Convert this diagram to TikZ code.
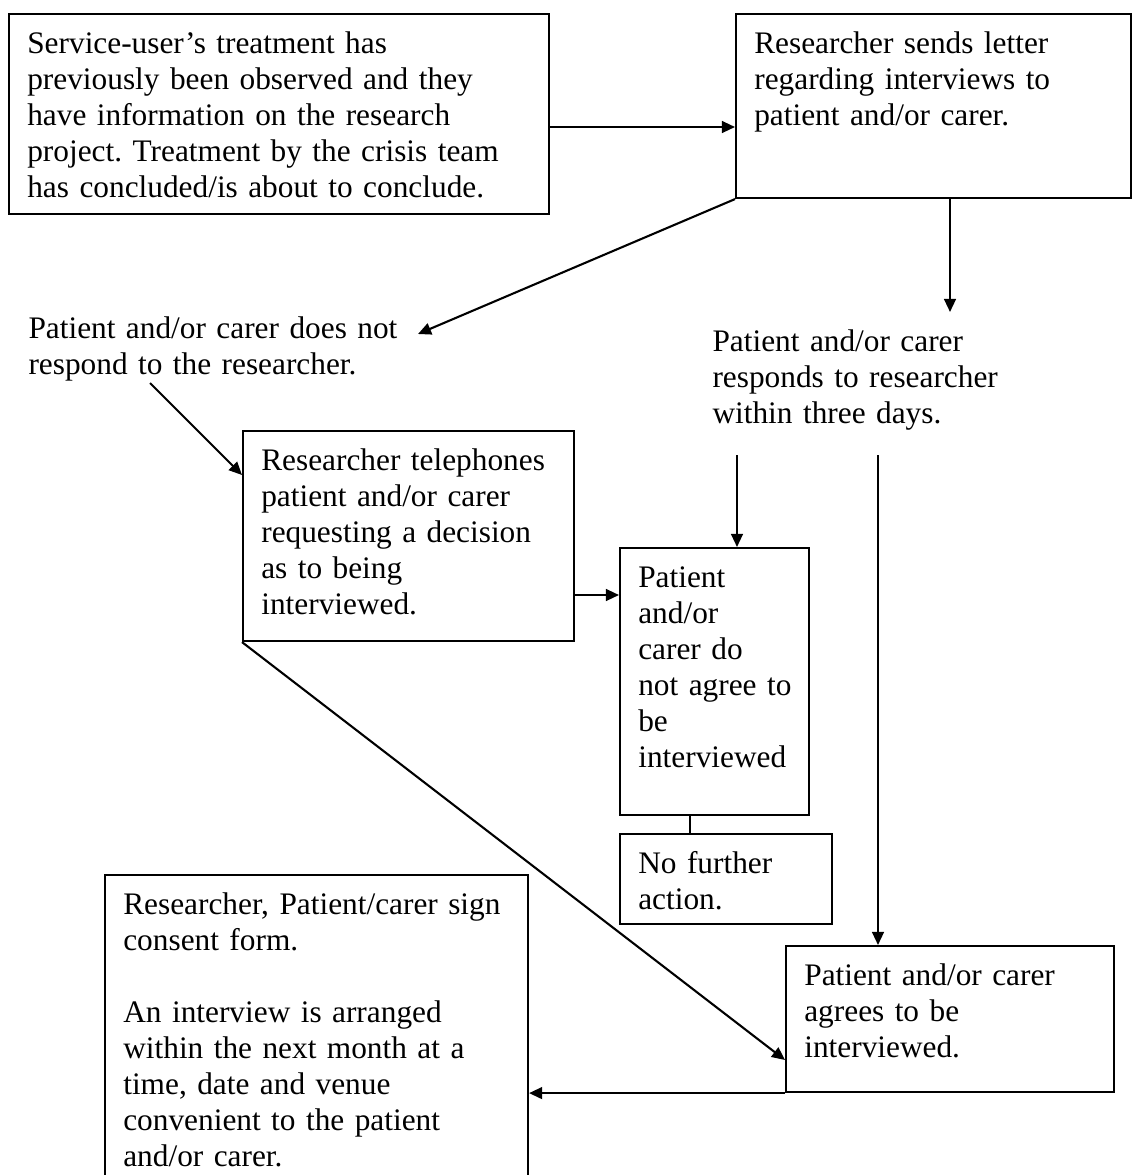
\documentclass[tikz,border=0pt]{standalone}
\usepackage{fontspec}
\setmainfont{Liberation Serif}
\usetikzlibrary{arrows.meta}
\tikzstyle{box}=[draw, line width=0.8pt, anchor=north west, align=left,
		inner xsep=7pt, inner ysep=0pt, text height=15pt]
\tikzstyle{txt}=[anchor=base west, align=left, inner sep=0pt]
\tikzstyle{arr}=[line width=0.8pt, -{Triangle[length=5pt,width=4.5pt]}]
\begin{document}
\frenchspacing
\begin{tikzpicture}[x=0.383pt, y=-0.383pt, font=\fontsize{12}{13.8}\selectfont]
	\useasboundingbox (0,0) rectangle (1134,1175);
	\clip (0,0) rectangle (1134,1175);
	\node[box, text width=540*0.383pt-14pt, text depth=200*0.383pt-15pt] (origin) at (8,13)
		{Service-user’s treatment has\\previously been observed and they\\have information on the research\\project. Treatment by the crisis team\\has concluded/is about to conclude.};
	\node[box, text width=395*0.383pt-14pt, text depth=184*0.383pt-15pt] (letter) at (735,13)
		{Researcher sends letter\\regarding interviews to\\patient and/or carer.};
	\node[txt, text width=160pt] (noreply) at (28,338)
		{Patient and/or carer does not\\respond to the researcher.};
	\node[txt, text width=120pt] (reply) at (712,351)
		{Patient and/or carer\\responds to researcher\\within three days.};
	\node[box, text width=331*0.383pt-14pt, text depth=210*0.383pt-15pt] (phone) at (242,430)
		{Researcher telephones\\patient and/or carer\\requesting a decision\\as to being\\interviewed.};
	\node[box, text width=189*0.383pt-14pt, text depth=267*0.383pt-15pt] (decline) at (619,547)
		{Patient\\and/or\\carer do\\\mbox{not agree to}\\be\\interviewed};
	\node[box, text width=212*0.383pt-14pt, text depth=90*0.383pt-15pt] (nofurther) at (619,833)
		{No further\\action.};
	\node[box, text width=423*0.383pt-14pt, text depth=330*0.383pt-15pt] (consent) at (104,874)
		{Researcher, Patient/carer sign\\consent form.\\[13.8pt]An interview is arranged\\within the next month at a\\time, date and venue\\convenient to the patient\\and/or carer.};
	\node[box, text width=328*0.383pt-14pt, text depth=146*0.383pt-15pt] (agree) at (785,945)
		{Patient and/or carer\\agrees to be\\interviewed.};
	\coordinate (noreplytip) at (418,334);
	\coordinate (noreplyend) at (150,383);
	\coordinate (replytip) at (950,312);
	\coordinate (replyleft) at (737,455);
	\coordinate (replyright) at (878,455);
	\draw[arr] (origin.east |- 0,127) -- (letter.west |- 0,127);
	\draw[arr] (letter.south west) -- (noreplytip);
	\draw[arr] (letter.south -| replytip) -- (replytip);
	\draw[arr] (noreplyend) -- (phone.west |- 0,475);
	\draw[arr] (replyleft) -- (replyleft |- decline.north);
	\draw[arr] (phone.east |- 0,595) -- (decline.west |- 0,595);
	\draw[line width=0.8pt] (decline.south -| 690,0) -- (nofurther.north -| 690,0);
	\draw[arr] (phone.south west) -- (agree.west |- 0,1060);
	\draw[arr] (replyright) -- (replyright |- agree.north);
	\draw[arr] (agree.south west) -- (agree.south west -| consent.east);
\end{tikzpicture}
\end{document}
